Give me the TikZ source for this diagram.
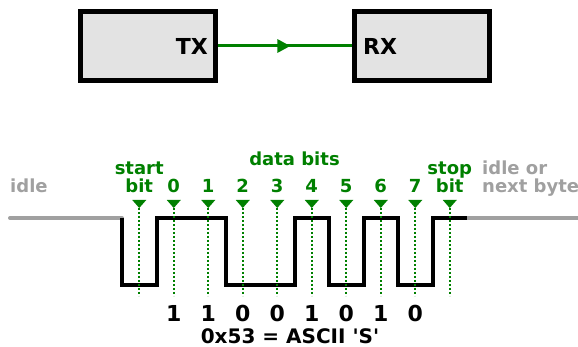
\documentclass[tikz,border=0pt]{standalone}
\usepackage{fontspec}
\setmainfont{DejaVu Sans}
\usetikzlibrary{arrows.meta,decorations.markings}
\definecolor{uartgreen}{RGB}{0,128,0}
\definecolor{idlegray}{RGB}{160,160,160}
\definecolor{boxgray}{RGB}{227,227,227}
\tikzset{
  unit/.style={draw,line width=4.5pt,fill=boxgray,minimum width=135pt,minimum height=69pt,inner sep=0pt},
  unitname/.style={font=\fontsize{22}{22}\selectfont\bfseries,inner sep=0pt},
  wire/.style={draw=uartgreen,line width=3pt,postaction={decorate},
    decoration={markings,mark=at position 0.54 with {\arrow[uartgreen]{Triangle[length=13pt,width=13pt]}}}},
  glabel/.style={font=\fontsize{18}{18}\selectfont\bfseries,text=uartgreen,align=center,inner sep=0pt},
  idletext/.style={font=\fontsize{18}{18}\selectfont\bfseries,text=idlegray,align=left,inner sep=0pt},
  valtext/.style={font=\fontsize{22}{22}\selectfont\bfseries,inner sep=0pt},
  idleline/.style={idlegray,line width=4pt,line cap=round},
  signal/.style={black,line width=4pt},
  sample/.style={uartgreen,line width=1.8pt,dash pattern=on 2pt off 2pt}
}
\begin{document}
\begin{tikzpicture}[x=1pt,y=-1pt]
  \useasboundingbox (0,0) rectangle (578,347);
  % transmitter and receiver
  \node[unit] (tx) at (148,46) {};
  \node[unit] (rx) at (422,46) {};
  \node[unitname,anchor=base east] (txname) at (208,55) {TX};
  \node[unitname,anchor=base west] (rxname) at (363,55) {RX};
  \path[wire] (tx) -- (rx);
  % line levels
  \draw[idleline] (10,218) -- (122,218);
  \draw[idleline] (467,218) -- (578,218);
  \draw[signal] (122,218) |- (156.5,285) |- (225.5,218) |- (294.5,285) |- (329,218)
    |- (363.5,285) |- (398,218) |- (432.5,285) |- (467,218);
  % sample points
  \foreach \i in {0,...,9}{
    \fill[uartgreen] ({132.25+34.5*\i},200) -- ++(14,0) -- ++(-7,8) -- cycle;
    \draw[sample] ({139.25+34.5*\i},208) -- ++(0,88);
  }
  % labels
  \node[idletext,anchor=base west] (idleleft) at (10,193) {idle};
  \node[idletext,anchor=base west] (idleright) at (482,193) {idle or\\next byte};
  \node[glabel,anchor=base] (startbit) at (139.25,193) {start\\bit};
  \node[glabel,anchor=base] (databits) at (294.5,166) {data bits};
  \node[glabel,anchor=base] (stopbit) at (449.75,193) {stop\\bit};
  \foreach \b in {0,...,7}
    \node[glabel,anchor=base] (bit\b) at ({173.75+34.5*\b},193) {\b};
  \foreach \v [count=\k from 0] in {1,1,0,0,1,0,1,0}
    \node[valtext,anchor=base] (val\k) at ({173.75+34.5*\k},321) {\v};
  \node[valtext,font=\fontsize{20}{20}\selectfont\bfseries,anchor=base] (ascii) at (290,343) {0x53 = ASCII \textquotesingle S\textquotesingle};
\end{tikzpicture}
\end{document}
